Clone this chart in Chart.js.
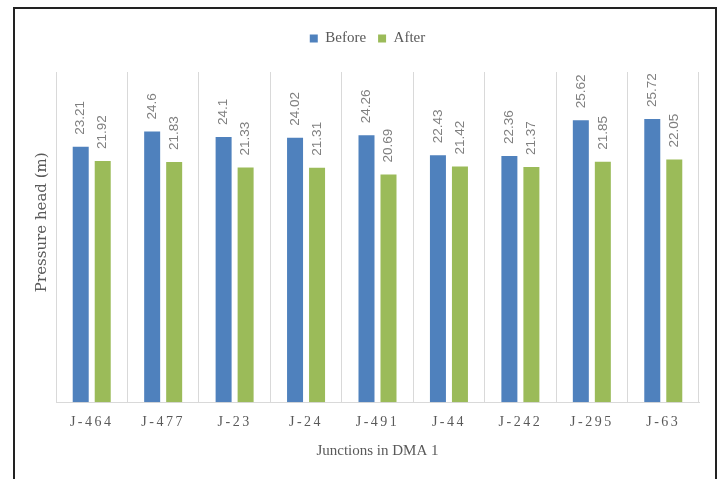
<!DOCTYPE html>
<html>
<head>
<meta charset="utf-8">
<script src="https://cdn.jsdelivr.net/npm/chart.js@4.4.1/dist/chart.umd.min.js"></script>
<style>
  html, body { margin: 0; padding: 0; background: #ffffff; }
  #wrap { position: relative; width: 724px; height: 479px; overflow: hidden; }
  #frame {
    position: absolute; left: 13px; top: 7px; width: 700px; height: 520px;
    border: 2px solid #222222; pointer-events: none;
  }
  canvas { position: absolute; left: 0; top: 0; }
</style>
</head>
<body>
<div id="wrap">
  <canvas id="chart" width="724" height="479"></canvas>
  <div id="frame"></div>
</div>
<script>
// Junctions sampled in DMA 1
const junctions = ['J-464', 'J-477', 'J-23', 'J-24', 'J-491', 'J-44', 'J-242', 'J-295', 'J-63'];
// Pressure head (m) before and after the intervention
const before = [23.21, 24.6, 24.1, 24.02, 24.26, 22.43, 22.36, 25.62, 25.72];
const after  = [21.92, 21.83, 21.33, 21.31, 20.69, 21.42, 21.37, 21.85, 22.05];
const yTitle = 'Pressure head (m)';

const BLUE = '#4f81bd';
const GREEN = '#9bbb59';
const TEXT = '#595959';

// Rotated value labels above each bar
const valueLabels = {
  id: 'valueLabels',
  afterDatasetsDraw(chart) {
    const ctx = chart.ctx;
    chart.data.datasets.forEach((ds, i) => {
      const meta = chart.getDatasetMeta(i);
      meta.data.forEach((bar, j) => {
        ctx.save();
        ctx.translate(bar.x, bar.y - 12);
        ctx.rotate(-Math.PI / 2);
        ctx.font = '13.5px "Liberation Sans", Arial, sans-serif';
        ctx.fillStyle = '#7f7f7f';
        ctx.textAlign = 'left';
        ctx.textBaseline = 'middle';
        ctx.fillText(String(ds.data[j]), 0, 0);
        ctx.restore();
      });
    });
  }
};

// Vertical axis title, sitting slightly above the plot's middle
const axisTitle = {
  id: 'axisTitle',
  afterDraw(chart) {
    const ctx = chart.ctx;
    const area = chart.chartArea;
    ctx.save();
    ctx.translate(area.left - 14, area.top + (area.bottom - area.top) * 0.455);
    ctx.rotate(-Math.PI / 2);
    ctx.font = '15px "DejaVu Serif", serif';
    ctx.fillStyle = TEXT;
    ctx.textAlign = 'center';
    ctx.textBaseline = 'middle';
    ctx.fillText(yTitle, 0, 0);
    ctx.restore();
  }
};

// Extra room under the legend, legend centred on the whole frame,
// and spaced-out category labels
const layoutTweaks = {
  id: 'layoutTweaks',
  beforeInit(chart) {
    const legend = chart.legend;
    const fit = legend.fit;
    legend.fit = function () {
      fit.call(this);
      this.height += 16;
    };
  },
  afterLayout(chart) {
    const legend = chart.legend;
    legend.left -= 10;
    legend.right -= 10;
    const s = chart.scales.x;
    if (!s._spaced) {
      const orig = s.drawLabels;
      s.drawLabels = function (area) {
        this.ctx.save();
        this.ctx.letterSpacing = '2.5px';
        orig.call(this, area);
        this.ctx.restore();
      };
      s._spaced = true;
    }
  }
};

new Chart(document.getElementById('chart'), {
  type: 'bar',
  data: {
    labels: junctions,
    datasets: [
      { label: 'Before', data: before, backgroundColor: BLUE },
      { label: 'After', data: after, backgroundColor: GREEN }
    ]
  },
  options: {
    responsive: false,
    animation: false,
    devicePixelRatio: 1,
    categoryPercentage: 0.616,
    barPercentage: 0.727,
    layout: { padding: { left: 56, right: 25, top: 19, bottom: 14.8 } },
    plugins: {
      tooltip: { enabled: false },
      legend: {
        position: 'top',
        labels: {
          boxWidth: 8,
          boxHeight: 8,
          padding: 12,
          color: TEXT,
          font: { family: '"Liberation Serif", serif', size: 15 }
        }
      }
    },
    scales: {
      x: {
        grid: { display: true, offset: true, color: '#d9d9d9', drawTicks: false },
        border: { display: true, color: '#d9d9d9', width: 1 },
        ticks: {
          padding: 13,
          color: TEXT,
          font: { family: '"Liberation Serif", serif', size: 14, lineHeight: 1 }
        },
        title: {
          display: true,
          text: 'Junctions in DMA 1',
          color: TEXT,
          font: { family: '"Liberation Serif", serif', size: 15 },
          padding: { top: 0, bottom: 4 }
        }
      },
      y: {
        display: false,
        min: 0,
        max: 30
      }
    }
  },
  plugins: [valueLabels, axisTitle, layoutTweaks]
});
</script>
</body>
</html>
